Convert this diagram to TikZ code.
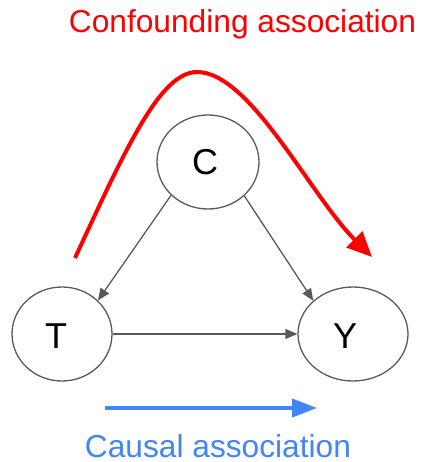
\documentclass[tikz,border=0pt]{standalone}
\usepackage{fontspec}
\setmainfont{Liberation Sans}
\usetikzlibrary{arrows.meta,shapes.geometric}
\definecolor{edgegray}{HTML}{595959}
\definecolor{confred}{HTML}{FF0000}
\definecolor{causblue}{HTML}{4285F4}
\tikzset{
  varnode/.style={draw=edgegray,line width=1.3pt,ellipse,inner sep=0pt,minimum height=94pt},
  varlabel/.style={font=\fontsize{36}{40}\selectfont,text=black},
  causaledge/.style={draw=edgegray,line width=1.3pt,-{Triangle[length=12pt,width=10pt]}},
  captext/.style={font=\fontsize{31.7}{38}\selectfont,anchor=base,inner sep=0pt}
}
\begin{document}
\begin{tikzpicture}[x=1pt,y=-1pt]
\useasboundingbox (0,0) rectangle (420,462);
\node[varnode,minimum width=102pt,label={[varlabel,xshift=-3pt]center:C}] (C) at (208,162) {};
\node[varnode,minimum width=100pt,label={[varlabel,xshift=-6pt,yshift=-2pt]center:T}] (T) at (62,334) {};
\node[varnode,minimum width=110pt,label={[varlabel,xshift=-8pt,yshift=-2pt]center:Y}] (Y) at (353,334) {};
\draw[causaledge] (C.222) -- (T.43);
\draw[causaledge] (C.317) -- (Y.140);
\draw[causaledge] (T.east) -- (Y.west);
\node[captext,text=confred] (title) at (242.5,33) {Confounding association};
\node[captext,text=causblue] (causal) at (218,457.5) {Causal association};
\coordinate (rs) at (75,258);
\coordinate (rp) at (197,72);
\coordinate (re) at (372,257);
\draw[confred,line width=4pt,-{Triangle[length=25pt,width=22pt]}]
  (rs) .. controls (125,150) and (160,72) .. (rp)
       .. controls (250,72) and (310,195) .. (re);
\coordinate (bs) at (105,408);
\coordinate (be) at (317,408);
\draw[causblue,line width=4pt,-{Triangle[length=25pt,width=18pt]}] (bs) -- (be);
\end{tikzpicture}
\end{document}
